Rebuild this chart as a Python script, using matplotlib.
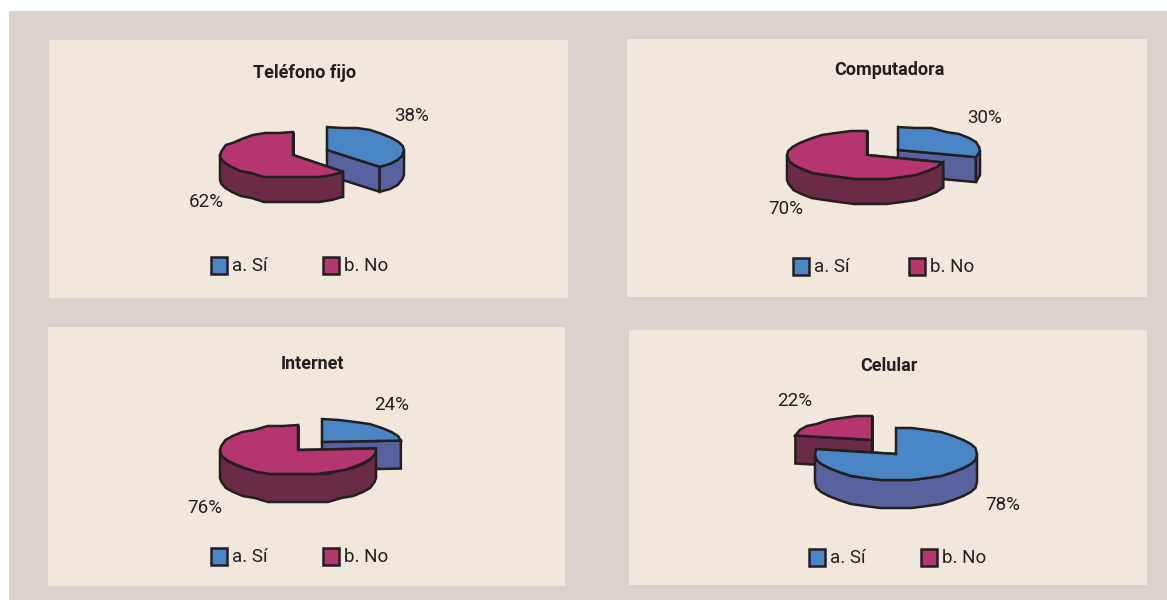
import numpy as np
import matplotlib
matplotlib.use("Agg")
import matplotlib.pyplot as plt
from matplotlib.patches import Polygon, Rectangle

titles = ["Teléfono fijo", "Computadora", "Internet", "Celular"]
categories = ["a. Sí", "b. No"]
si_values = [38, 30, 24, 78]
no_values = [62, 70, 76, 22]

BG = "#DAD2CD"; PANEL = "#F1E7DD"; INK = "#231F20"
TOP = ["#4A86C5", "#B5356F"]
SIDE = ["#58629F", "#6B2A45"]
FONT = ["Roboto", "Liberation Sans", "DejaVu Sans"]

# layout, in pixels
panels = [(49, 40, 568, 298), (627, 39, 1147, 297), (48, 327, 565, 586), (629, 330, 1147, 585)]
title_pos = [(305, 73), (889, 70), (312, 364), (889, 366)]
si_geo = [(327, 150, 77, 23, 25), (898, 150, 82, 23, 25), (322, 442, 79, 23, 28), (896, 454, 81, 26, 28)]
no_geo = [(293, 155, 73, 23, 25), (867, 155, 80, 24, 25), (298, 450, 78, 25, 28), (872, 440, 78, 24, 28)]
si_label = [(412, 116), (985, 118), (392, 405), (1003, 505)]
no_label = [(206, 202), (786, 209), (205, 508), (795, 401)]
swatch_a = [(211, 257), (793, 258), (211, 548), (809, 549)]
swatch_b = [(323, 257), (909, 258), (323, 548), (921, 549)]

fig = plt.figure(figsize=(11.67, 6.0), dpi=100, facecolor="white")
ax = fig.add_axes([0, 0, 1, 1])
ax.set_xlim(0, 1167); ax.set_ylim(600, 0); ax.axis("off")
ax.add_patch(Rectangle((9, 11), 1158, 589, fc=BG, ec="none"))
LW = 1.8
STEP_DEG = 11     # coarse polygonal rim, as in the low-resolution original
SNAP_PX = 2       # vertical snapping that gives the rim a slight waviness


def rim(cx, cy, rx, ry, a0, a1, dz=0):
    n = max(2, int(abs(a1 - a0) / STEP_DEG) + 1)
    t = np.radians(np.linspace(a0, a1, n))
    y = -ry * np.sin(t)
    snapped = np.round(y / SNAP_PX) * SNAP_PX
    snapped[[0, -1]] = y[[0, -1]]
    return np.column_stack([cx + rx * np.cos(t), cy + snapped + dz])


def wedge(geo, a0, a1, k):
    """Slice running clockwise from a0 to a1 (degrees), extruded downward."""
    cx, cy, rx, ry, d = geo
    for a in (a0, a1):
        p = rim(cx, cy, rx, ry, a, a)[0]
        ax.add_patch(Polygon([(cx, cy), p, (p[0], p[1] + d), (cx, cy + d)], closed=True,
                             fc=SIDE[k], ec=INK, lw=LW, joinstyle="miter"))
    for base in (-360, 0):
        lo = max(a1, base - 180)
        hi = min(a0, base)
        if hi > lo:
            top = rim(cx, cy, rx, ry, hi, lo)
            bot = rim(cx, cy, rx, ry, lo, hi, d)
            ax.add_patch(Polygon(np.vstack([top, bot]), closed=True,
                                 fc=SIDE[k], ec=INK, lw=LW, joinstyle="miter"))
    ax.add_patch(Polygon(np.vstack([[(cx, cy)], rim(cx, cy, rx, ry, a0, a1)]), closed=True,
                         fc=TOP[k], ec=INK, lw=LW, joinstyle="miter"))


for i in range(4):
    x0, y0, x1, y1 = panels[i]
    ax.add_patch(Rectangle((x0, y0), x1 - x0, y1 - y0, fc=PANEL, ec="none"))
    ax.text(*title_pos[i], titles[i], family=FONT, fontweight="bold", fontsize=13,
            color=INK, ha="center", va="center")
    split = 90 - 360 * si_values[i] / (si_values[i] + no_values[i])
    slices = [(si_geo[i], 90, split, 0), (no_geo[i], split, -270, 1)]
    slices.sort(key=lambda s: s[0][1])          # farther slice (higher on the page) first
    for geo, a0, a1, k in slices:
        wedge(geo, a0, a1, k)
    ax.text(*si_label[i], f"{si_values[i]}%", family=FONT, fontsize=13.5, color=INK, ha="center", va="center")
    ax.text(*no_label[i], f"{no_values[i]}%", family=FONT, fontsize=13.5, color=INK, ha="center", va="center")
    for k, sw in enumerate((swatch_a[i], swatch_b[i])):
        ax.add_patch(Rectangle(sw, 16, 17, fc=TOP[k], ec=INK, lw=LW))
        ax.text(sw[0] + 21, sw[1] + 9, categories[k], family=FONT, fontsize=13.5,
                color=INK, ha="left", va="center")

fig.savefig("out.png", dpi=100, facecolor="white")
